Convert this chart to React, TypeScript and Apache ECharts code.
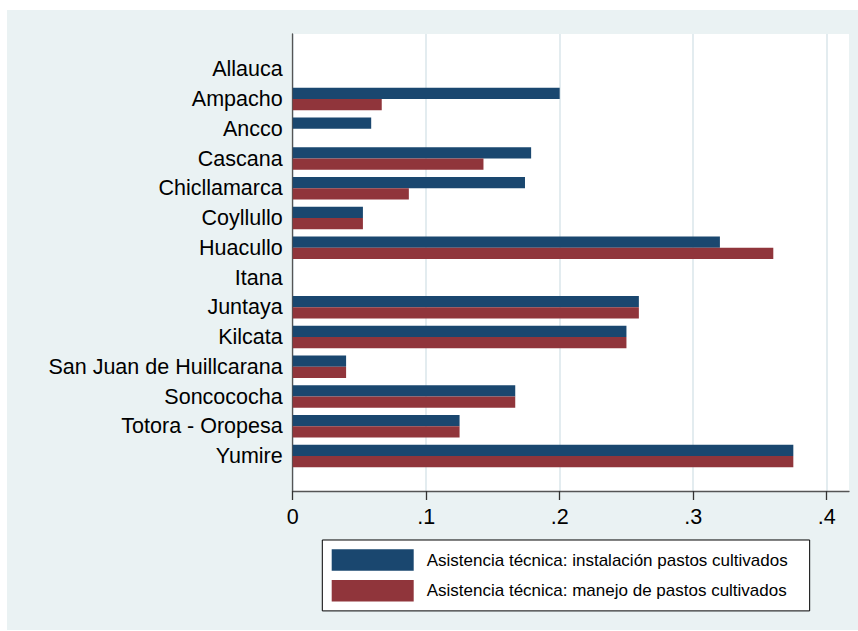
import React, { useEffect, useRef } from "react";
import * as echarts from "echarts";

const categories = [
  "Allauca",
  "Ampacho",
  "Ancco",
  "Cascana",
  "Chicllamarca",
  "Coyllullo",
  "Huacullo",
  "Itana",
  "Juntaya",
  "Kilcata",
  "San Juan de Huillcarana",
  "Soncococha",
  "Totora - Oropesa",
  "Yumire",
];

const instalacion = [0, 0.2, 0.0588, 0.1786, 0.174, 0.0526, 0.32, 0, 0.2593, 0.25, 0.04, 0.1667, 0.125, 0.375];
const manejo = [0, 0.0667, 0, 0.1429, 0.087, 0.0526, 0.36, 0, 0.2593, 0.25, 0.04, 0.1667, 0.125, 0.375];

const seriesNames = [
  "Asistencia técnica: instalación pastos cultivados",
  "Asistencia técnica: manejo de pastos cultivados",
];

const xTickValues = [0, 0.1, 0.2, 0.3, 0.4];
const xTickLabels = ["0", ".1", ".2", ".3", ".4"];

const FONT = "'Liberation Sans', Arial, sans-serif";

export default function App() {
  const ref = useRef<HTMLDivElement>(null);
  useEffect(() => {
    if (!ref.current) return;
    const chart = echarts.init(ref.current, null, { renderer: "svg" });
    const plotLeft = 292.7;
    const plotRight = 849;
    const plotTop = 34;
    const plotBottom = 491;
    const xMax = 0.4 * (plotRight - plotLeft) / (826.7 - plotLeft);
    const labelFor = (v: number) => {
      const i = xTickValues.findIndex((t) => Math.abs(t - v) < 1e-6);
      return i >= 0 ? xTickLabels[i] : "";
    };
    chart.setOption({
      animation: false,
      backgroundColor: "#ffffff",
      textStyle: { fontFamily: FONT },
      graphic: [
        {
          type: "rect",
          z: -10,
          shape: { x: 7, y: 10, width: 851, height: 620 },
          style: { fill: "#eaf2f3" },
        },
        {
          type: "rect",
          z: -9,
          shape: { x: plotLeft, y: plotTop, width: plotRight - plotLeft, height: plotBottom - plotTop },
          style: { fill: "#ffffff" },
        },
      ],
      grid: [
        {
          left: plotLeft,
          top: plotTop,
          width: plotRight - plotLeft,
          height: plotBottom - plotTop,
          containLabel: false,
        },
        {
          left: plotLeft,
          top: 54.4,
          width: plotRight - plotLeft,
          height: 416.5,
          containLabel: false,
        },
      ],
      xAxis: [
        {
          type: "value",
          gridIndex: 0,
          min: 0,
          max: xMax,
          interval: 0.1,
          axisLine: { show: true, lineStyle: { color: "#555555", width: 1.3 } },
          axisTick: {
            show: true,
            inside: false,
            length: 9,
            customValues: xTickValues,
            lineStyle: { color: "#333333", width: 1.3 },
          },
          axisLabel: {
            show: true,
            customValues: xTickValues,
            formatter: labelFor,
            fontSize: 21.5,
            color: "#000000",
            fontFamily: FONT,
            margin: 15,
          },
          splitLine: { show: true, lineStyle: { color: "#dce8ec", width: 1.6 } },
        },
        {
          type: "value",
          gridIndex: 1,
          min: 0,
          max: xMax,
          show: false,
          splitLine: { show: false },
        },
      ],
      yAxis: [
        {
          type: "value",
          gridIndex: 0,
          min: 0,
          max: 1,
          axisLine: { show: true, lineStyle: { color: "#555555", width: 1.3 } },
          axisTick: { show: false },
          axisLabel: { show: false },
          splitLine: { show: false },
        },
        {
          type: "category",
          gridIndex: 1,
          inverse: true,
          data: categories,
          axisLine: { show: false },
          axisTick: { show: false },
          axisLabel: {
            fontSize: 21.5,
            color: "#000000",
            fontFamily: FONT,
            margin: 10,
          },
          splitLine: { show: false },
        },
      ],
      legend: {
        orient: "vertical",
        left: 322.3,
        top: 540,
        itemWidth: 82,
        itemHeight: 21.5,
        itemGap: 9.3,
        padding: [9.3, 22, 9.3, 9.4],
        borderColor: "#000000",
        borderWidth: 1,
        backgroundColor: "#ffffff",
        icon: "rect",
        textStyle: { fontSize: 17, color: "#000000", fontFamily: FONT, padding: [0, 0, 0, 8] },
        data: seriesNames,
      },
      series: [
        {
          name: seriesNames[0],
          type: "bar",
          xAxisIndex: 1,
          yAxisIndex: 1,
          data: instalacion,
          barGap: "0%",
          barCategoryGap: "24%",
          itemStyle: { color: "#1a476f" },
        },
        {
          name: seriesNames[1],
          type: "bar",
          xAxisIndex: 1,
          yAxisIndex: 1,
          data: manejo,
          barGap: "0%",
          barCategoryGap: "24%",
          itemStyle: { color: "#90353b" },
        },
      ],
    });
    return () => chart.dispose();
  }, []);
  return (
    <div
      ref={ref}
      style={{ position: "absolute", left: 0, top: 0, width: 858, height: 631 }}
    />
  );
}
